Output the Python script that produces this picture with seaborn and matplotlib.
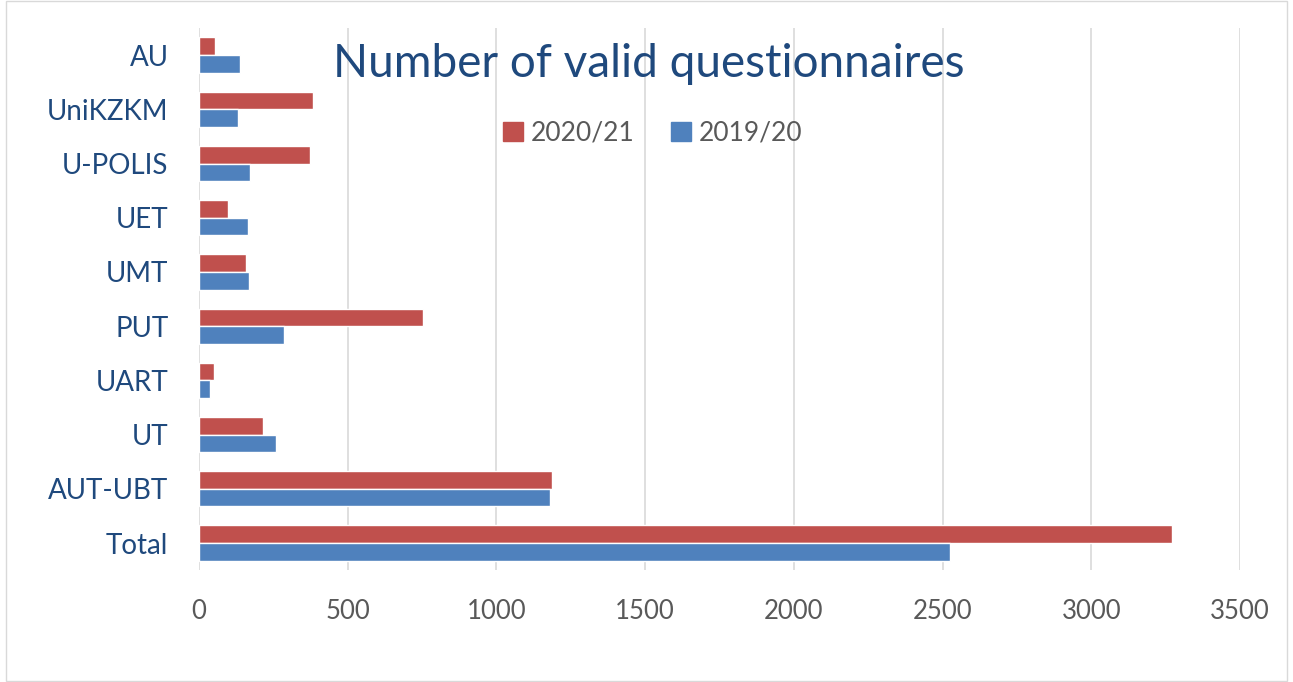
import pandas as pd
import matplotlib.pyplot as plt
import matplotlib.patches as mpatches
import seaborn as sns

# values
universities = ["AU", "UniKZKM", "U-POLIS", "UET", "UMT", "PUT", "UART", "UT", "AUT-UBT", "Total"]
count_2020_21 = [54, 383, 373, 97, 157, 754, 52, 215, 1186, 3273]
count_2019_20 = [137, 130, 170, 166, 168, 286, 36, 258, 1179, 2525]
years = ["2020/21", "2019/20"]
year_colors = {"2020/21": "#C0504D", "2019/20": "#4F81BD"}

df = pd.DataFrame({
    "university": universities * 2,
    "count": count_2020_21 + count_2019_20,
    "year": [years[0]] * len(universities) + [years[1]] * len(universities),
})

sns.set_style("white")
plt.rcParams["font.family"] = ["Lato", "DejaVu Sans"]

fig = plt.figure(figsize=(12.93, 6.82), dpi=100)
ax = fig.add_axes([0.1539, 0.164, 0.959 - 0.1539, 0.959 - 0.164])

sns.barplot(data=df, y="university", x="count", hue="year", hue_order=years,
            order=universities, palette=year_colors, orient="h", width=0.65,
            saturation=1, ax=ax, legend=False)

ax.set_xlim(0, 3500)
ax.set_ylim(len(universities) - 0.5, -0.5)
ax.set_xticks(range(0, 3501, 500))
ax.xaxis.grid(True, color="#D9D9D9", linewidth=1.2)
ax.set_axisbelow(True)
for s in ax.spines.values():
    s.set_visible(False)
ax.set_xlabel("")
ax.set_ylabel("")
ax.tick_params(axis="both", length=0)
ax.tick_params(axis="y", labelsize=20, labelcolor="#1F497D", pad=22)
ax.tick_params(axis="x", labelsize=18.5, labelcolor="#595959", pad=21)

fig.text(0.502, 0.887, "Number of valid questionnaires", ha="center", va="baseline",
         fontsize=33, color="#1F497D")

handles = [mpatches.Patch(color=year_colors[y], label=y) for y in years]
fig.legend(handles=handles, loc="center", bbox_to_anchor=(0.505, 0.805), ncol=2,
           frameon=False, fontsize=19, handlelength=0.75, handleheight=0.75,
           handletextpad=0.3, columnspacing=1.4, labelcolor="#595959")

fig.add_artist(mpatches.Rectangle((0.005, 0.002), 0.99, 0.996, transform=fig.transFigure,
                                  fill=False, edgecolor="#D9D9D9", linewidth=1))

fig.savefig("out.png", dpi=100)
